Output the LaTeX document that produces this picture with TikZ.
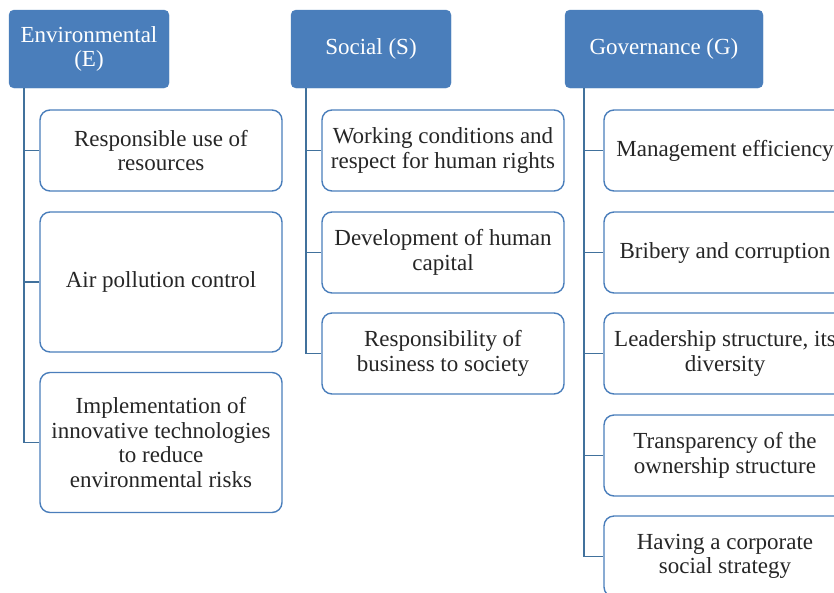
\documentclass[tikz,border=0pt]{standalone}
\usepackage{fontspec}
\setmainfont{Liberation Serif}
\definecolor{headblue}{HTML}{4A7EBB}
\definecolor{lineblue}{HTML}{41719C}
\definecolor{textgray}{HTML}{262626}
\begin{document}
\begin{tikzpicture}[x=1pt,y=-1pt]
\tikzstyle{every node}=[font=\fontsize{23}{24.5}\selectfont,align=center,inner sep=0pt]
\tikzstyle{head}=[rectangle,rounded corners=5pt,fill=headblue,draw=headblue,text=white,minimum height=78pt]
\tikzstyle{item}=[rectangle,rounded corners=10pt,draw=headblue,line width=1.4pt,fill=white,text=textgray,minimum width=242pt,minimum height=81pt]
\useasboundingbox (0,0) rectangle (834,592);
\clip (0,0) rectangle (834,592);
% headers
\node[head,minimum width=160pt](eh) at (89,49) {Environmental\\(E)};
\node[head,minimum width=160pt](sh) at (371,49) {Social (S)};
\node[head,minimum width=198pt](gh) at (664,49) {Governance (G)};
% environmental
\node[item](e1) at (161,150.5) {Responsible use of\\resources};
\node[item,minimum height=140pt](e2) at (161,282) {Air pollution control};
\node[item,minimum height=140pt](e3) at (161,442.5) {Implementation of\\innovative technologies\\to reduce\\environmental risks};
% social
\node[item](s1) at (443,150.5) {Working conditions and\\respect for human rights};
\node[item](s2) at (443,252.5) {Development of human\\capital};
\node[item](s3) at (443,353.5) {Responsibility of\\business to society};
% governance
\node[item](g1) at (725,150.5) {Management efficiency};
\node[item](g2) at (725,252.5) {Bribery and corruption};
\node[item](g3) at (725,353.5) {Leadership structure, its\\diversity};
\node[item](g4) at (725,455.5) {Transparency of the\\ownership structure};
\node[item](g5) at (725,556.5) {Having a corporate\\social strategy};
% connectors
\coordinate (ea) at (24,88);
\coordinate (sa) at (306,88);
\coordinate (ga) at (584,88);
\draw[lineblue,line width=1.6pt] (ea) |- (e3.west);
\draw[lineblue,line width=1.6pt] (ea) |- (e1.west);
\draw[lineblue,line width=1.6pt] (ea) |- (e2.west);
\draw[lineblue,line width=1.6pt] (sa) |- (s3.west);
\draw[lineblue,line width=1.6pt] (sa) |- (s1.west);
\draw[lineblue,line width=1.6pt] (sa) |- (s2.west);
\draw[lineblue,line width=1.6pt] (ga) |- (g5.west);
\draw[lineblue,line width=1.6pt] (ga) |- (g1.west);
\draw[lineblue,line width=1.6pt] (ga) |- (g2.west);
\draw[lineblue,line width=1.6pt] (ga) |- (g3.west);
\draw[lineblue,line width=1.6pt] (ga) |- (g4.west);
\end{tikzpicture}
\end{document}
